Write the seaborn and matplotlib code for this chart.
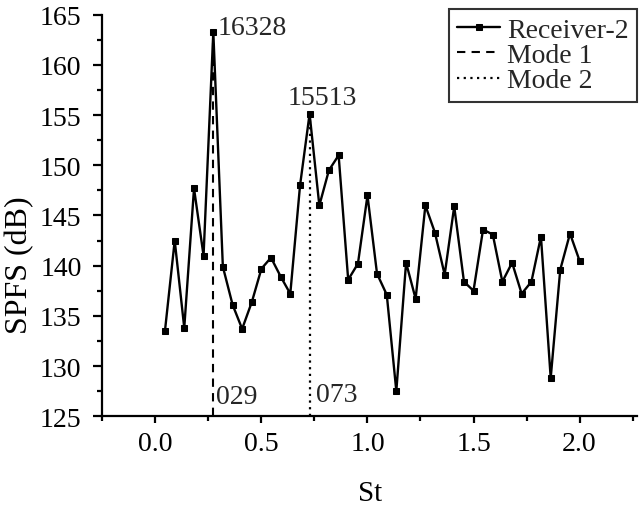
import matplotlib
matplotlib.use("Agg")
import matplotlib.pyplot as plt
import seaborn as sns
import pandas as pd
from matplotlib.ticker import MultipleLocator

# ---- data ----
st = [0.045, 0.091, 0.136, 0.182, 0.227, 0.273, 0.318, 0.364, 0.409, 0.455,
      0.500, 0.545, 0.591, 0.636, 0.682, 0.727, 0.773, 0.818, 0.864, 0.909,
      0.955, 1.000, 1.045, 1.091, 1.136, 1.182, 1.227, 1.273, 1.318, 1.364,
      1.409, 1.455, 1.500, 1.545, 1.591, 1.636, 1.682, 1.727, 1.773, 1.818,
      1.864, 1.909, 1.955, 2.000]
spfs = [133.5, 142.5, 133.8, 147.7, 141.0, 163.28, 139.9, 136.1, 133.7, 136.4,
        139.7, 140.8, 138.9, 137.2, 148.0, 155.13, 146.0, 149.5, 151.0, 138.6,
        140.2, 147.0, 139.2, 137.1, 127.5, 140.3, 136.7, 146.0, 143.3, 139.1,
        145.9, 138.4, 137.5, 143.6, 143.1, 138.4, 140.3, 137.2, 138.4, 142.9,
        128.8, 139.6, 143.2, 140.5]
series_name = "Receiver-2"
mode_names = ["Mode 1", "Mode 2"]
mode_st = [0.27, 0.73]
mode_peak = [163.28, 155.13]
peak_labels = ["16328", "15513"]
mode_labels = ["029", "073"]

sns.set_theme(style="ticks")
plt.rcParams["font.family"] = ["Liberation Serif", "DejaVu Serif"]

fs = 20
fig = plt.figure(figsize=(6.4, 5.1), dpi=100)
ax = fig.add_axes([0.160, 0.182, 0.835, 0.787])

df = pd.DataFrame({"St": st, "SPFS": spfs})
sns.lineplot(data=df, x="St", y="SPFS", ax=ax, color="black", lw=1.7,
             marker="s", markersize=4.3, markeredgecolor="black",
             sort=False, label=series_name, legend=False)

ax.vlines(mode_st[0], 125, mode_peak[0], colors="black", lw=1.5,
          linestyles=(0, (4, 3)), label=mode_names[0])
ax.vlines(mode_st[1], 125, mode_peak[1], colors="black", lw=1.6,
          linestyles=(0, (1, 2)), label=mode_names[1])

# annotations
ax.text(0.293, 163.75, peak_labels[0], fontsize=fs, va="center", ha="left")
ax.text(0.623, 156.8, peak_labels[1], fontsize=fs, va="center", ha="left")
ax.text(0.287, 127.0, mode_labels[0], fontsize=fs, va="center", ha="left")
ax.text(0.758, 127.2, mode_labels[1], fontsize=fs, va="center", ha="left")

ax.set_xlim(-0.25, 2.27)
ax.set_ylim(125, 165)
ax.xaxis.set_major_locator(MultipleLocator(0.5))
ax.xaxis.set_minor_locator(MultipleLocator(0.25))
ax.yaxis.set_major_locator(MultipleLocator(5))
ax.yaxis.set_minor_locator(MultipleLocator(2.5))
ax.xaxis.set_major_formatter(matplotlib.ticker.FormatStrFormatter("%.1f"))

sns.despine(ax=ax)
for s in ["left", "bottom"]:
    ax.spines[s].set_linewidth(1.6)
    ax.spines[s].set_color("black")
ax.tick_params(axis="both", which="major", labelsize=fs, width=1.6,
               color="black", labelcolor="black", direction="out")
ax.tick_params(axis="y", which="major", length=6.5, pad=8.5)
ax.tick_params(axis="x", which="major", length=5, pad=6)
ax.tick_params(axis="both", which="minor", length=3.5, width=1.6, color="black")

ax.set_xlabel("St", fontsize=21, color="black", labelpad=17)
ax.set_ylabel("SPFS (dB)", fontsize=23, color="black")
ax.yaxis.set_label_coords(-0.128, 0.379)

leg = ax.legend(loc="upper right", bbox_to_anchor=(1.001, 1.015),
                fontsize=fs, frameon=True, fancybox=False,
                edgecolor="black", handlelength=1.55, handletextpad=0.25,
                labelspacing=0.0, borderpad=0.3, borderaxespad=0.0)
leg.get_frame().set_linewidth(1.5)

fig.savefig("out.png", dpi=100)
